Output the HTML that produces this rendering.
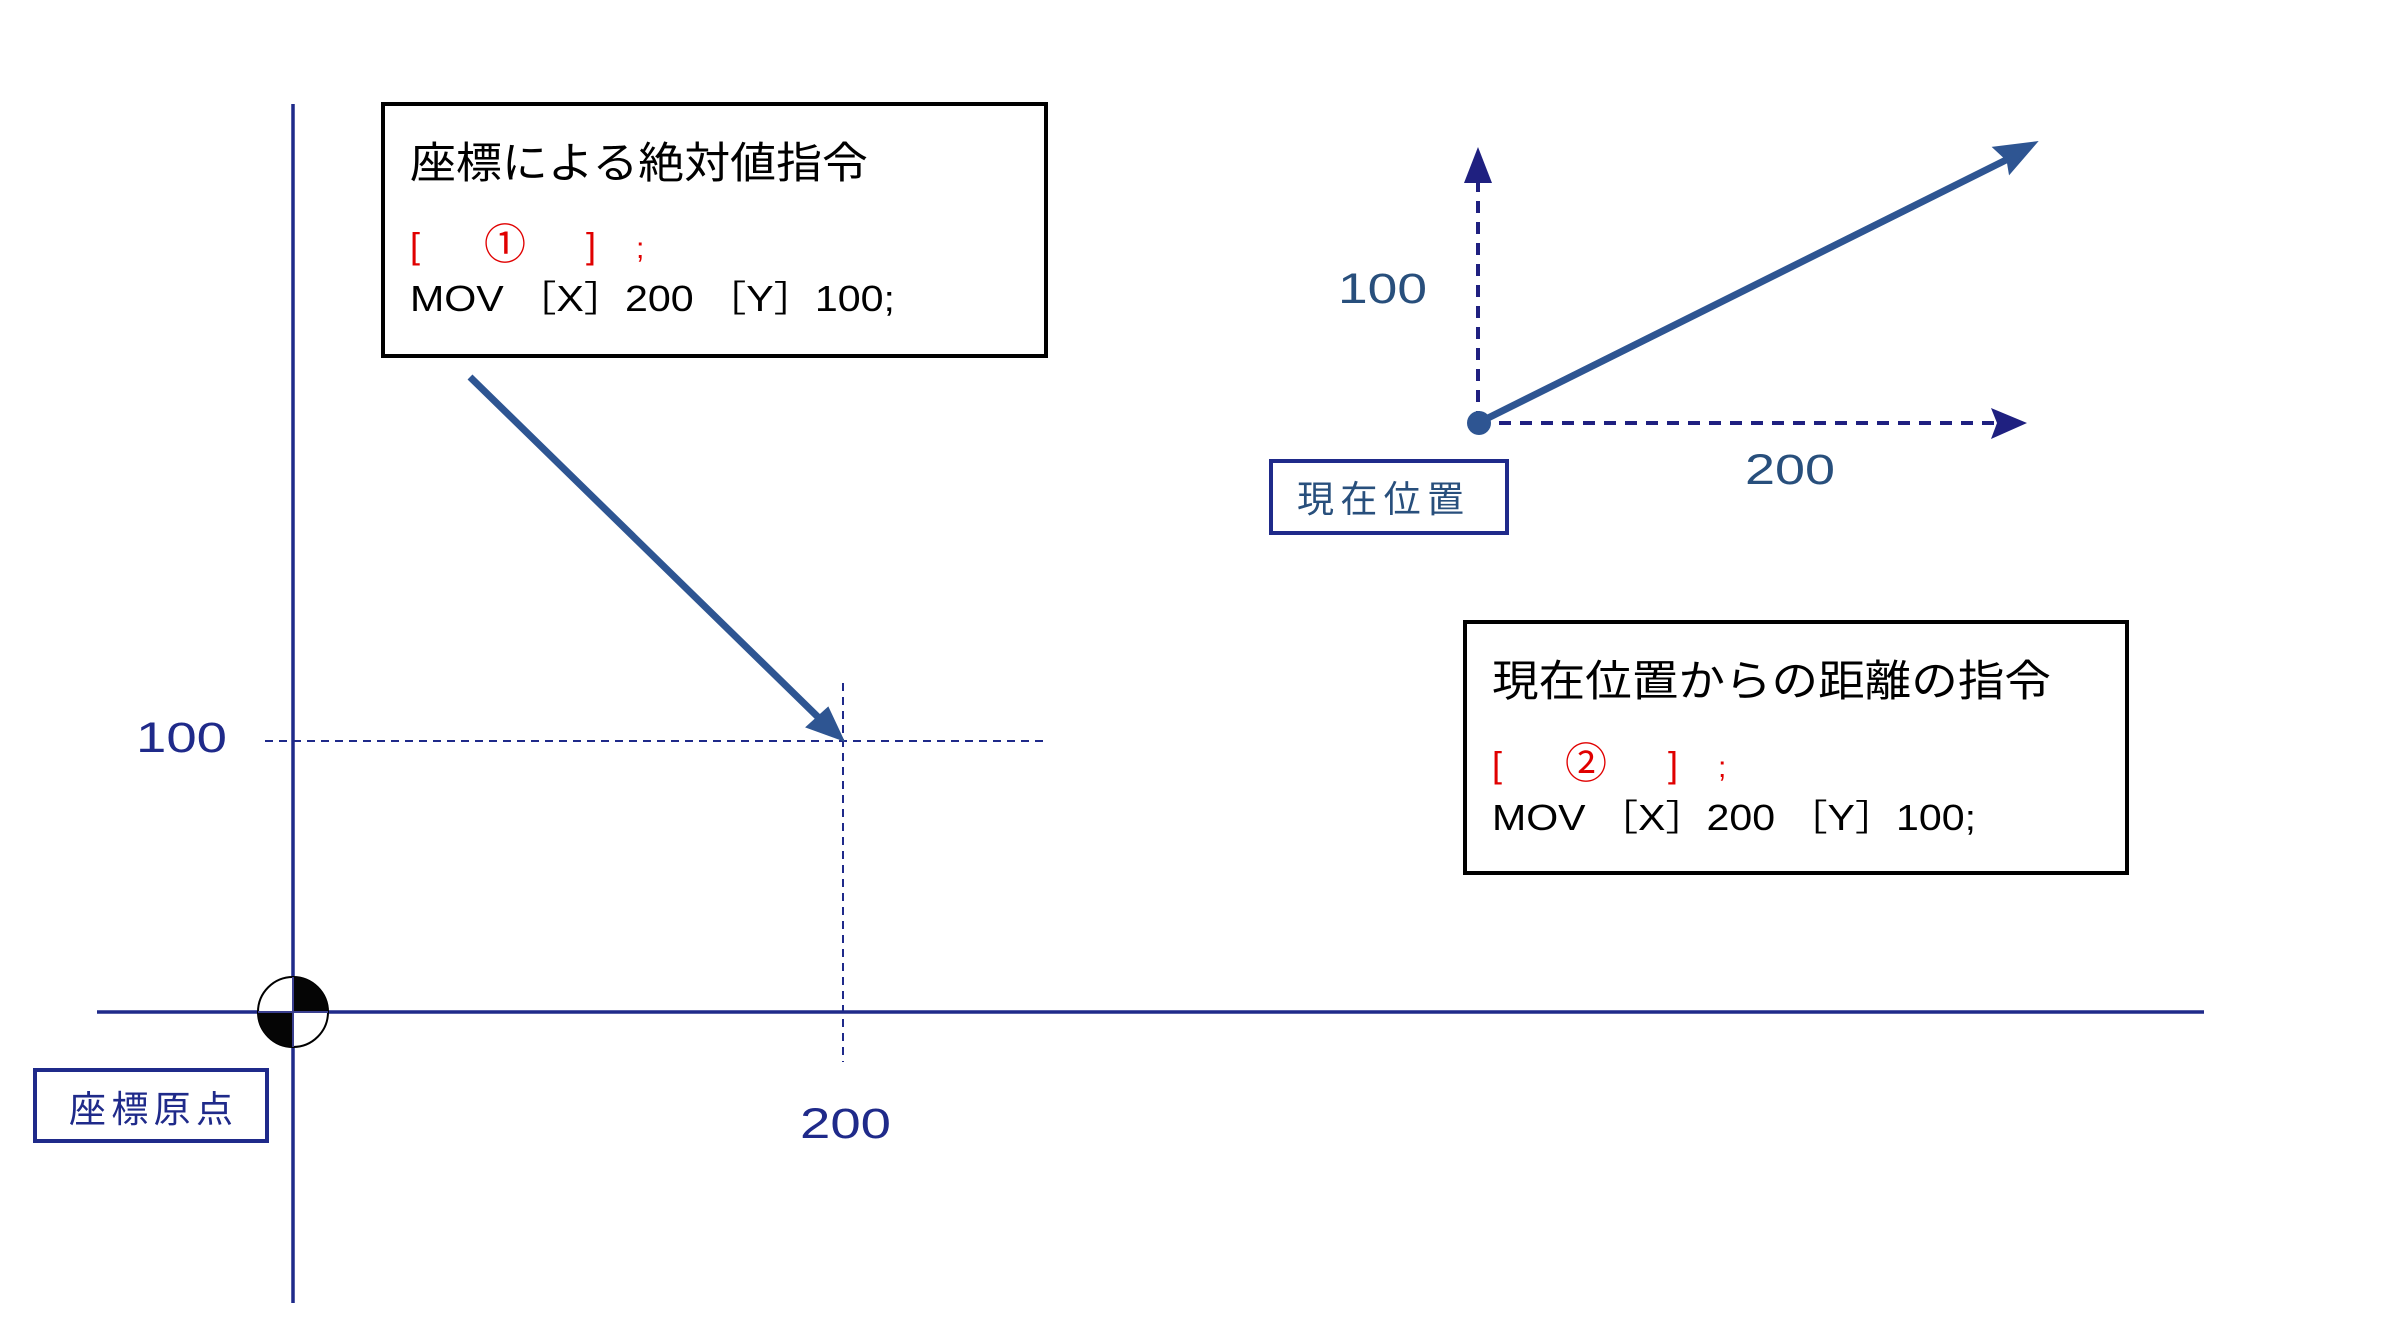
<!DOCTYPE html>
<html><head><meta charset="utf-8"><style>
html,body{margin:0;padding:0;background:#fff;}
svg{display:block}
text{font-family:"Liberation Sans","Noto Sans CJK JP",sans-serif;}
</style></head><body>
<svg width="2383" height="1339" viewBox="0 0 2383 1339" xmlns="http://www.w3.org/2000/svg">
<!-- axes -->
<line x1="293" y1="104" x2="293" y2="1303" stroke="#1f2a8a" stroke-width="3.5"/>
<line x1="97" y1="1012" x2="2204" y2="1012" stroke="#1f2a8a" stroke-width="3.5"/>
<!-- origin symbol -->
<circle cx="293" cy="1012" r="35" fill="#fff" stroke="#000" stroke-width="2"/>
<path d="M293 1012 L293 977 A35 35 0 0 1 328 1012 Z" fill="#050505"/>
<path d="M293 1012 L293 1047 A35 35 0 0 1 258 1012 Z" fill="#050505"/>
<line x1="293" y1="977" x2="293" y2="1047" stroke="#3a3f8f" stroke-width="2"/>
<line x1="258" y1="1012" x2="328" y2="1012" stroke="#3a3f8f" stroke-width="2"/>
<!-- dashed guides -->
<line x1="265" y1="741" x2="1046" y2="741" stroke="#1f2a8a" stroke-width="2" stroke-dasharray="8,6"/>
<line x1="843" y1="683" x2="843" y2="1062" stroke="#1f2a8a" stroke-width="2" stroke-dasharray="8,6"/>
<!-- box1 -->
<rect x="383" y="104" width="663" height="252" fill="#fff" stroke="#000" stroke-width="4"/>
<text x="410" y="178" font-size="43" fill="#000" textLength="458" lengthAdjust="spacingAndGlyphs">座標による絶対値指令</text>
<text x="410" y="258" font-size="36" fill="#e00000">[</text>
<text x="505" y="259" font-size="42" fill="#e00000" text-anchor="middle">①</text>
<text x="586" y="258" font-size="36" fill="#e00000">]</text>
<text x="636" y="258" font-size="30" fill="#e00000">;</text>
<text x="410" y="311" font-size="36" fill="#000" textLength="485" lengthAdjust="spacingAndGlyphs">MOV ［X］200 ［Y］100;</text>
<!-- arrow1 -->
<line x1="470" y1="377" x2="820" y2="719" stroke="#2e5592" stroke-width="7"/>
<polygon points="843,740 807,727 828,708" fill="#2e5592" stroke="#2e5592" stroke-width="2"/>
<!-- left labels -->
<text x="136" y="752" font-size="43" fill="#1f2a8a" textLength="91" lengthAdjust="spacingAndGlyphs">100</text>
<text x="800" y="1138" font-size="43" fill="#1f2a8a" textLength="91" lengthAdjust="spacingAndGlyphs">200</text>
<!-- origin label -->
<rect x="35" y="1070" width="232" height="71" fill="#fff" stroke="#1f2a8a" stroke-width="4"/>
<text x="69" y="1122" font-size="37" fill="#1f2a8a" textLength="164" lengthAdjust="spacing">座標原点</text>
<!-- right diagram -->
<line x1="1478" y1="423" x2="1478" y2="180" stroke="#1f2080" stroke-width="4" stroke-dasharray="12,9"/>
<polygon points="1478,147 1464,183 1492,183" fill="#1f2080"/>
<line x1="1478" y1="423" x2="2000" y2="423" stroke="#1f2080" stroke-width="4" stroke-dasharray="12,9"/>
<polygon points="2027,423 1991,408 1997,423 1991,439" fill="#1f2080"/>
<line x1="1478" y1="423" x2="2012" y2="157" stroke="#2e5592" stroke-width="7"/>
<polygon points="2035,143 1995,148 2008,160 2010,172" fill="#2e5592" stroke="#2e5592" stroke-width="3"/>
<ellipse cx="1479" cy="423" rx="12" ry="12" fill="#2e5592"/>
<text x="1338" y="303" font-size="43" fill="#284f7c" textLength="89" lengthAdjust="spacingAndGlyphs">100</text>
<text x="1745" y="484" font-size="43" fill="#284f7c" textLength="90" lengthAdjust="spacingAndGlyphs">200</text>
<rect x="1271" y="461" width="236" height="72" fill="#fff" stroke="#1f2a8a" stroke-width="4"/>
<text x="1297" y="512" font-size="37" fill="#284f7c" textLength="167" lengthAdjust="spacing">現在位置</text>
<!-- box2 -->
<rect x="1465" y="622" width="662" height="251" fill="#fff" stroke="#000" stroke-width="4"/>
<text x="1492" y="696" font-size="43" fill="#000" textLength="559" lengthAdjust="spacingAndGlyphs">現在位置からの距離の指令</text>
<text x="1492" y="777" font-size="36" fill="#e00000">[</text>
<text x="1586" y="778" font-size="42" fill="#e00000" text-anchor="middle">②</text>
<text x="1668" y="777" font-size="36" fill="#e00000">]</text>
<text x="1718" y="777" font-size="30" fill="#e00000">;</text>
<text x="1492" y="830" font-size="36" fill="#000" textLength="484" lengthAdjust="spacingAndGlyphs">MOV ［X］200 ［Y］100;</text>
</svg>
</body></html>
